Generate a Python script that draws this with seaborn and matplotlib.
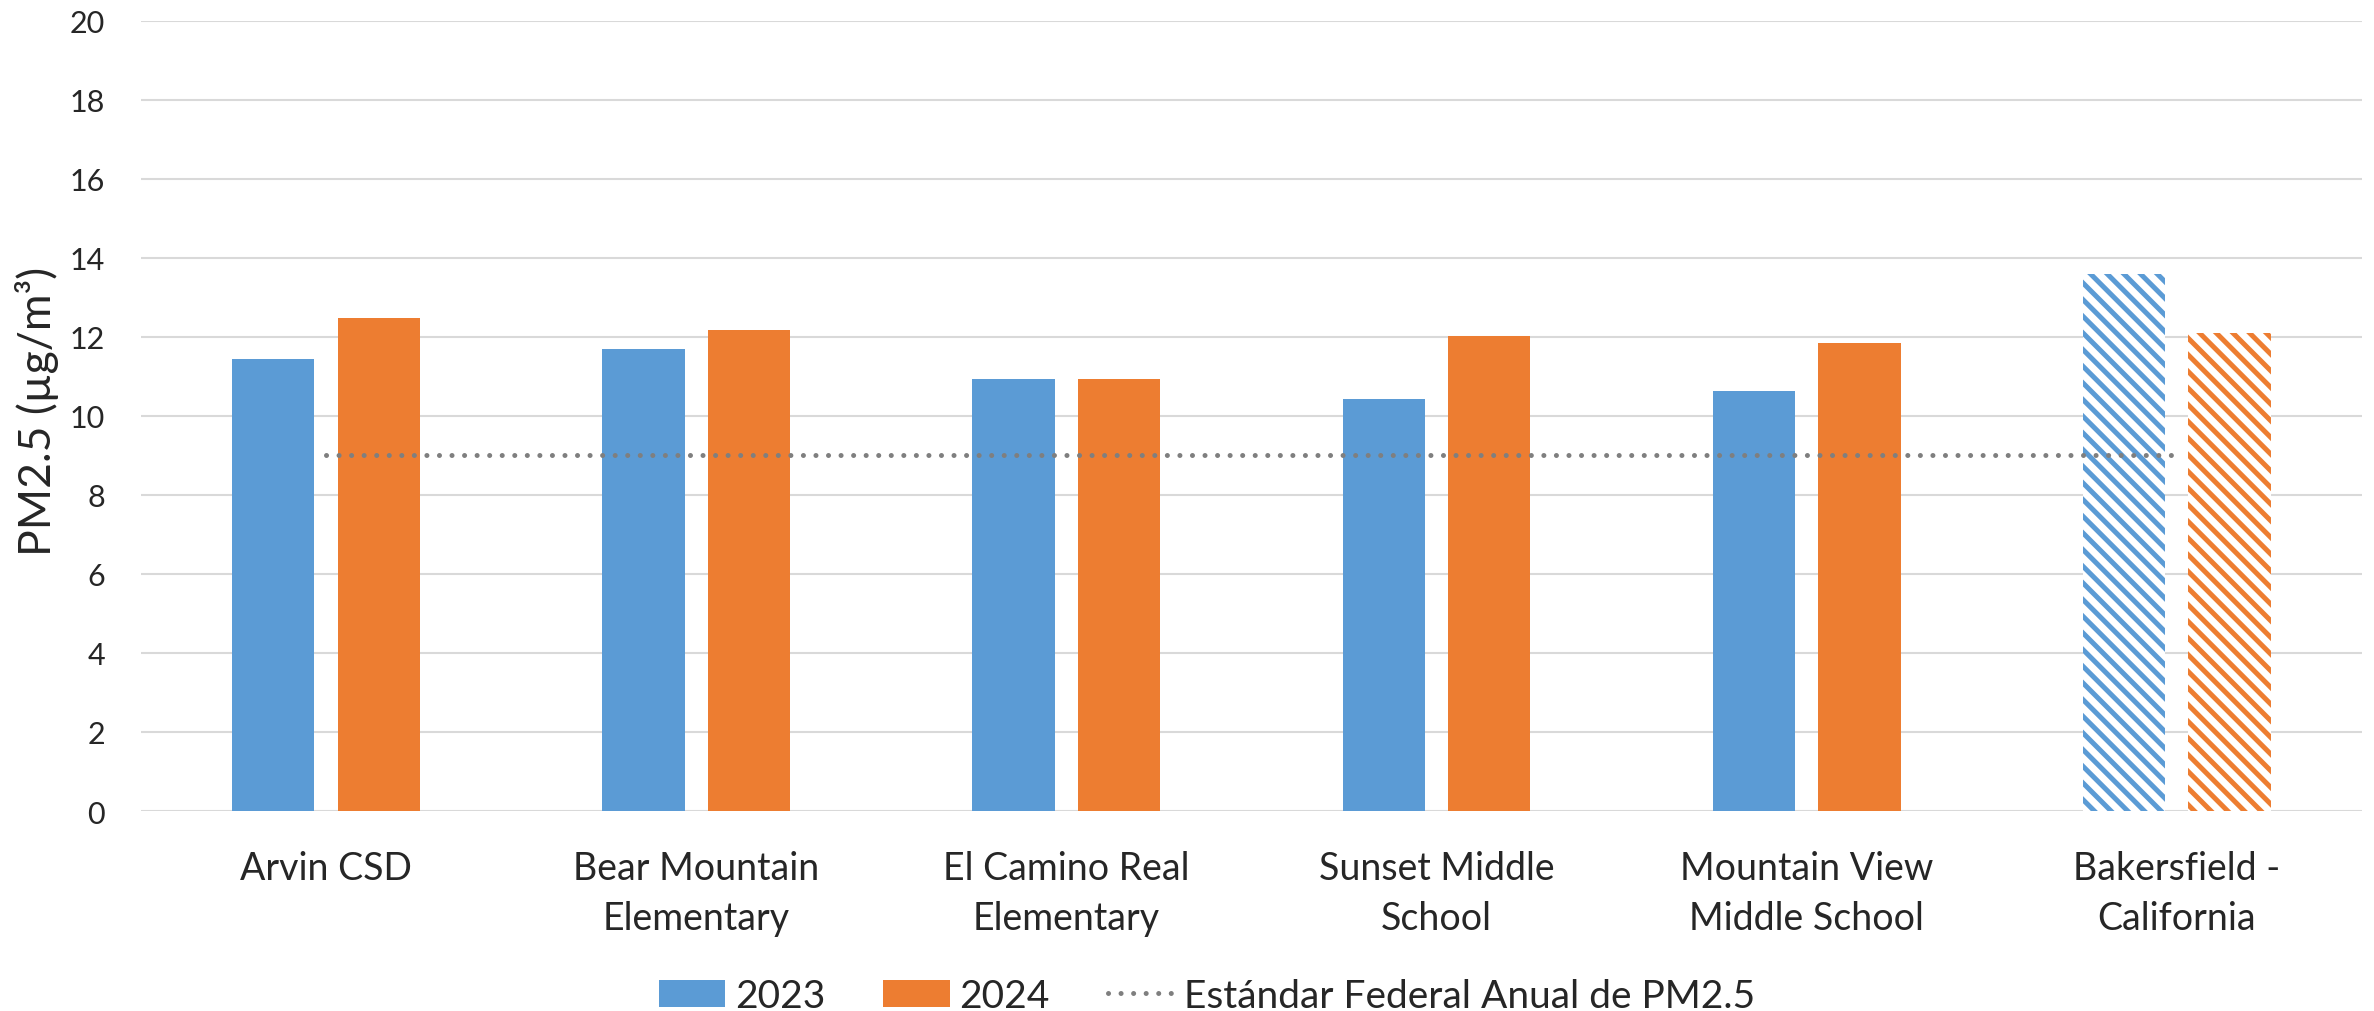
import numpy as np
import pandas as pd
import matplotlib
matplotlib.use("Agg")
import matplotlib.pyplot as plt
from matplotlib.patches import Patch
from matplotlib.lines import Line2D
import seaborn as sns

# values
sites = ["Arvin CSD", "Bear Mountain Elementary", "El Camino Real Elementary",
         "Sunset Middle School", "Mountain View Middle School", "Bakersfield - California"]
site_labels = ["Arvin CSD", "Bear Mountain\nElementary", "El Camino Real\nElementary",
               "Sunset Middle\nSchool", "Mountain View\nMiddle School", "Bakersfield -\nCalifornia"]
pm25_2023 = [11.43, 11.69, 10.93, 10.42, 10.63, 13.59]
pm25_2024 = [12.48, 12.18, 10.94, 12.03, 11.85, 12.09]
standard_pm25 = [9.0, 9.0, 9.0, 9.0, 9.0, 9.0]
years = ["2023", "2024"]
yticks = [0, 2, 4, 6, 8, 10, 12, 14, 16, 18, 20]

blue = "#5B9BD5"
orange = "#ED7D31"
gray = "#7F7F7F"

sns.set_theme(style="white")
plt.rcParams["font.family"] = ["Lato", "DejaVu Sans"]
plt.rcParams["hatch.linewidth"] = 3.6

df = pd.DataFrame({
    "site": sites * 2,
    "year": [years[0]] * len(sites) + [years[1]] * len(sites),
    "pm25": pm25_2023 + pm25_2024,
})

fig = plt.figure(figsize=(23.74, 10.12), dpi=100)
ax = fig.add_axes([0.0594, 0.1976, 0.9355, 0.781])

sns.barplot(data=df, x="site", y="pm25", hue="year", order=sites, hue_order=years,
            palette=[blue, orange], saturation=1, width=0.57, gap=0.22,
            linewidth=0, legend=False, ax=ax)

# Bakersfield bars are drawn hatched instead of filled
for bar in ax.patches:
    cx = bar.get_x() + bar.get_width() / 2
    if cx > len(sites) - 1.5:
        col = bar.get_facecolor()
        bar.set_facecolor("white")
        bar.set_edgecolor(col)
        bar.set_hatch("\\\\")
        bar.set_linewidth(0)

ax.plot(np.arange(len(sites)), standard_pm25, color=gray, lw=3.6,
        linestyle=(0, (0.01, 2.5)), dash_capstyle="round", zorder=3)

ax.set_xlim(-0.5, len(sites) - 0.5)
ax.set_ylim(0, 20)
ax.set_yticks(yticks)
ax.set_xticks(range(len(sites)))
ax.set_xticklabels(site_labels, fontsize=27, linespacing=1.5)
ax.tick_params(axis="y", labelsize=22, pad=26, length=0)
ax.tick_params(axis="x", pad=28, length=0)
ax.yaxis.grid(True, color="#D9D9D9", lw=1.5)
ax.set_axisbelow(True)
for s in ax.spines.values():
    s.set_visible(False)
ax.set_xlabel("")
ax.set_ylabel("PM2.5 (µg/m³)", fontsize=32)
ax.yaxis.set_label_coords(-0.037, 0.507)

handles = [Patch(facecolor=blue, edgecolor="none"),
           Patch(facecolor=orange, edgecolor="none"),
           Line2D([], [], color=gray, lw=3.6, linestyle=(0, (0.01, 2.5)),
                  dash_capstyle="round")]
fig.legend(handles, years + ["Estándar Federal Anual de PM2.5"], loc="center",
           bbox_to_anchor=(0.5084, 0.015), ncol=3, frameon=False, fontsize=28,
           handlelength=1.7, handletextpad=0.25, columnspacing=1.5, borderpad=0)

fig.savefig("out.png", dpi=100)
